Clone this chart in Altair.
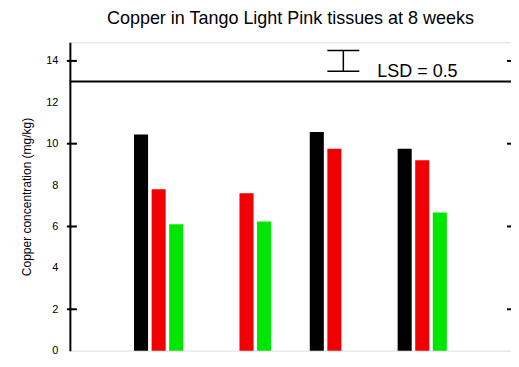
import altair as alt
import pandas as pd

tissues = ["Root", "Stem", "Leaf", "Flower"]
treatments = ["Control", "Cu low", "Cu high"]
colors = ["#000000", "#f00000", "#00e600"]

bar_tissue = ["Root", "Root", "Root", "Stem", "Stem", "Leaf", "Leaf", "Flower", "Flower", "Flower"]
bar_treat = ["Control", "Cu low", "Cu high", "Cu low", "Cu high", "Control", "Cu low", "Control", "Cu low", "Cu high"]
bar_value = [10.45, 7.80, 6.11, 7.60, 6.24, 10.56, 9.76, 9.76, 9.20, 6.68]

threshold = [13]
lsd_center = [14]
lsd_half = 0.5
y_labels = [0, 2, 4, 6, 8, 10, 12, 14]
y_tick_marks = [2, 6, 10, 14]

title = "Copper in Tango Light Pink tissues at 8 weeks"
y_title = "Copper concentration (mg/kg)"

W, H = 442, 309
FONT = "Liberation Sans"

ysc = alt.Scale(domain=[0, 14.9], nice=False, zero=True)

df = pd.DataFrame({"tissue": bar_tissue, "treat": bar_treat, "value": bar_value})

bars = alt.Chart(df).mark_bar().encode(
    x=alt.X("tissue:N", sort=tissues, axis=None,
            scale=alt.Scale(domain=tissues, paddingInner=0.4, paddingOuter=0.71)),
    xOffset=alt.XOffset("treat:N", sort=treatments,
                        scale=alt.Scale(domain=treatments, paddingInner=0.2, paddingOuter=0.1)),
    y=alt.Y("value:Q", scale=ysc,
            axis=alt.Axis(values=y_labels, ticks=False, grid=False, domainColor="black",
                          domainWidth=2, labelPadding=12, labelFont=FONT, labelFontSize=11,
                          labelColor="black", title=y_title, titleFont=FONT, titleFontSize=12,
                          titleFontWeight="normal", titleColor="black", titlePadding=12)),
    color=alt.Color("treat:N", scale=alt.Scale(domain=treatments, range=colors), legend=None),
)

tdf = pd.DataFrame({"y": threshold})
thresh = alt.Chart(tdf).mark_rule(color="black", strokeWidth=2).encode(
    y=alt.Y("y:Q", scale=ysc), x=alt.value(0), x2=alt.value(W))

ldf = pd.DataFrame({"lo": [c - lsd_half for c in lsd_center], "hi": [c + lsd_half for c in lsd_center]})
lsd_v = alt.Chart(ldf).mark_rule(color="black", strokeWidth=1.5).encode(
    y=alt.Y("lo:Q", scale=ysc), y2="hi:Q", x=alt.value(274))
lsd_lo = alt.Chart(ldf).mark_rule(color="black", strokeWidth=1.5).encode(
    y=alt.Y("lo:Q", scale=ysc), x=alt.value(258), x2=alt.value(290))
lsd_hi = alt.Chart(ldf).mark_rule(color="black", strokeWidth=1.5).encode(
    y=alt.Y("hi:Q", scale=ysc), x=alt.value(258), x2=alt.value(290))
lsd_txt = alt.Chart(pd.DataFrame({"t": ["LSD = %s" % lsd_half]})).mark_text(
    font=FONT, fontSize=18, align="left", baseline="alphabetic", color="black").encode(
    text="t:N", x=alt.value(308), y=alt.value(35))

kdf = pd.DataFrame({"y": y_tick_marks})
left_ticks = alt.Chart(kdf).mark_rule(color="black", strokeWidth=2).encode(
    y=alt.Y("y:Q", scale=ysc), x=alt.value(-3), x2=alt.value(7))
right_ticks = alt.Chart(kdf).mark_rule(color="black", strokeWidth=2).encode(
    y=alt.Y("y:Q", scale=ysc), x=alt.value(W - 4), x2=alt.value(W))

chart = alt.layer(bars, thresh, lsd_v, lsd_lo, lsd_hi, lsd_txt, left_ticks, right_ticks).properties(
    width=W, height=H,
    title=alt.TitleParams(title, font=FONT, fontSize=18, fontWeight="normal", color="black",
                          anchor="middle", frame="group", offset=-4, baseline="bottom"),
    autosize=alt.AutoSizeParams(type="none"),
    padding={"left": 62, "top": 34, "right": 0, "bottom": 5},
).configure_view(strokeWidth=0).configure(background="white")

chart.save("out.html", embed_options={"renderer": "svg", "actions": False})
